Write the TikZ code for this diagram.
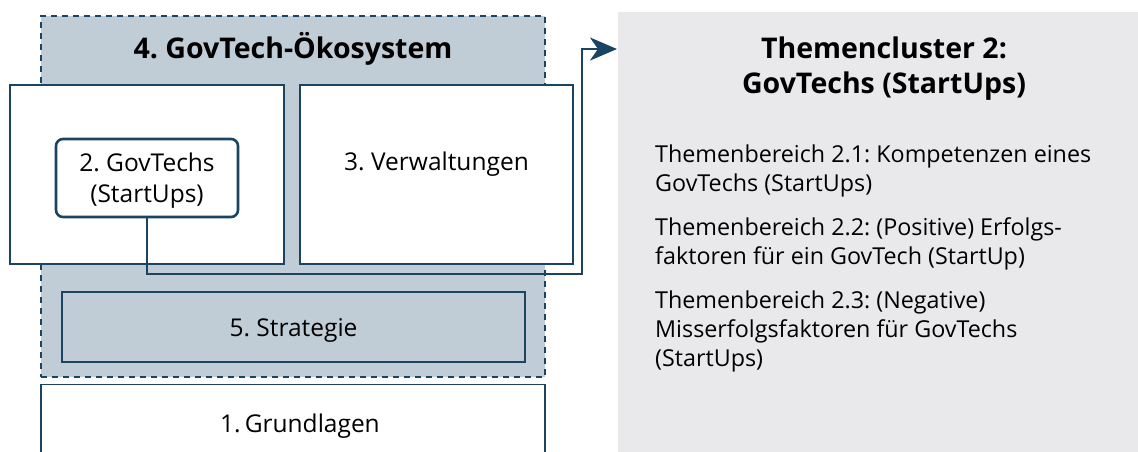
\documentclass[tikz,border=0pt]{standalone}
\usepackage{fontspec}
\setmainfont{Open Sans}
\frenchspacing
\usetikzlibrary{arrows.meta}
\definecolor{dblue}{HTML}{1B4463}
\definecolor{ecofill}{HTML}{C1CDD6}
\definecolor{panelfill}{HTML}{E9E9EB}
\begin{document}
\begin{tikzpicture}[x=1pt,y=-1pt,
  ecobox/.style={draw=dblue,fill=ecofill,dash pattern=on 6pt off 5pt,line width=1.5pt,inner sep=0pt},
  wbox/.style={draw=dblue,fill=white,line width=1.4pt,inner sep=0pt},
  innerbox/.style={draw=dblue,fill=white,line width=2.6pt,rounded corners=7pt,inner sep=0pt},
  lbl/.style={font=\fontsize{24.5}{30}\selectfont,inner sep=0pt,anchor=base},
  ttl/.style={font=\bfseries\fontsize{28.5}{35}\selectfont,inner sep=0pt,anchor=base},
  item/.style={font=\fontsize{23.3}{29}\selectfont,inner sep=0pt,anchor=base west},
  conn/.style={draw=dblue,line width=2.6pt,-{Stealth[length=27pt,width=23pt,inset=8pt]}}
]
\useasboundingbox (0,0) rectangle (1138,451);
% right panel
\node[fill=panelfill,inner sep=0pt,minimum width=530pt,minimum height=450pt,anchor=north west] (panel) at (617.5,12) {};
% ecosystem
\node[ecobox,minimum width=504pt,minimum height=361pt] (eco) at (293,196.5) {};
\node[ttl] (ecot) at (293,58) {4. GovTech-Ökosystem};
\node[wbox,minimum width=274pt,minimum height=179pt] (gbox) at (147,174.5) {};
\node[wbox,minimum width=273pt,minimum height=179pt] (vbox) at (436.5,174.5) {};
\node[lbl] (vt) at (436.5,170) {3. Verwaltungen};
\node[innerbox,minimum width=182pt,minimum height=78pt] (inner) at (147,178) {};
\node[lbl] (in1) at (147,171) {2. GovTechs};
\node[lbl] (in2) at (147,202) {(StartUps)};
\node[wbox,fill=ecofill,minimum width=463pt,minimum height=70pt] (strat) at (293.5,327) {};
\node[lbl] (st) at (293.5,336) {5. Strategie};
\node[wbox,minimum width=504pt,minimum height=80pt,anchor=north] (grund) at (293,384) {};
\node[lbl] (gt) at (300,432) {1.\,Grundlagen};
% connector
\coordinate (c1) at (582,274);
\coordinate (c2) at (617,49);
\draw[conn] (inner.south) |- (c1) |- (c2);
% panel text
\node[ttl] (pt1) at (884,58) {Themencluster 2:};
\node[ttl] (pt2) at (884,93) {GovTechs (StartUps)};
\node[item] (i1a) at (655,162) {Themenbereich 2.1: Kompetenzen eines};
\node[item] (i1b) at (655,191) {GovTechs (StartUps)};
\node[item] (i2a) at (655,235) {Themenbereich 2.2: (Positive) Erfolgs-};
\node[item] (i2b) at (655,264) {faktoren für ein GovTech (StartUp)};
\node[item] (i3a) at (655,308) {Themenbereich 2.3: (Negative)};
\node[item] (i3b) at (655,337) {Misserfolgsfaktoren für GovTechs};
\node[item] (i3c) at (655,366) {(StartUps)};
\end{tikzpicture}
\end{document}
